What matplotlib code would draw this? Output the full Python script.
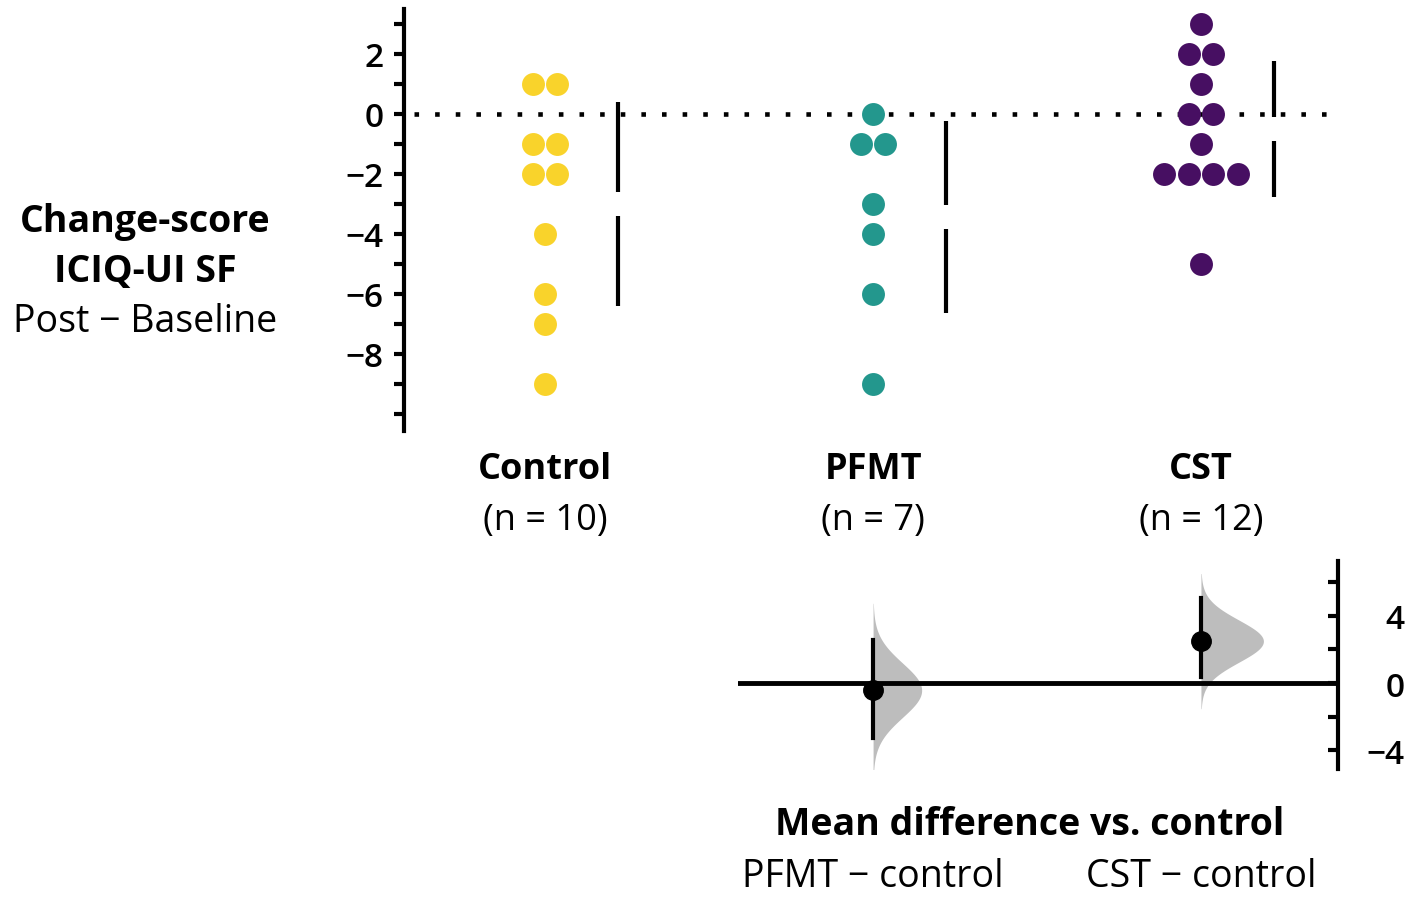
import matplotlib.pyplot as plt
import matplotlib.transforms as mtransforms
import numpy as np

plt.rcParams['font.family'] = ['Open Sans', 'DejaVu Sans']

# data
groups = ['Control', 'PFMT', 'CST']
control = [1, 1, -1, -1, -2, -2, -4, -6, -7, -9]
pfmt = [0, -1, -1, -3, -4, -6, -9]
cst = [3, 2, 2, 1, 0, 0, -1, -2, -2, -2, -2, -5]
colors = ['#F9D32B', '#23978D', '#470F62']

# bootstrap CIs for the mean differences
diff_labels = ['PFMT \u2212 control', 'CST \u2212 control']
ci_low = [-3.3, 0.35]
ci_high = [2.55, 5.05]

samples = [control, pfmt, cst]

fig = plt.figure(figsize=(14.16, 9.03), dpi=100)
W, H = 1416, 903

def px_axes(x0, y0, x1, y1):
    return fig.add_axes([x0 / W, 1 - y1 / H, (x1 - x0) / W, (y1 - y0) / H])

# ---- top: swarm plot ----
ax = px_axes(404, 10, 1330, 432)
ax.set_xlim(-0.43, 2.393)
ax.set_ylim(-10.57, 3.5)

dot_dx = 0.075
for i, vals in enumerate(samples):
    vals = np.array(vals)
    xs = []
    ys = []
    for v in np.unique(vals):
        k = np.sum(vals == v)
        for j in range(k):
            xs.append(i + (j - (k - 1) / 2) * dot_dx)
            ys.append(v)
    ax.plot(xs, ys, 'o', color=colors[i], markersize=16.5, markeredgewidth=0, zorder=3)

    # mean +/- SD with a gap at the mean
    m = vals.mean()
    sd = vals.std(ddof=1)
    gap = 0.4
    ex = i + 0.222
    ax.plot([ex, ex], [m + gap, m + sd], color='black', lw=3, solid_capstyle='butt')
    ax.plot([ex, ex], [m - gap, m - sd], color='black', lw=3, solid_capstyle='butt')

ax.plot([-0.4, 2.39], [0, 0], color='black', lw=3.3, linestyle=(0, (1, 3.5)), zorder=2)

for s in ['top', 'right', 'bottom']:
    ax.spines[s].set_visible(False)
ax.spines['left'].set_linewidth(3)
ax.set_xticks([])
yt = np.arange(-10, 4)
ax.set_yticks(yt)
ax.set_yticklabels([f'{v}'.replace('-', '\u2212') if (v % 2 == 0 and v > -10) else '' for v in yt])
ax.tick_params(axis='y', length=7, width=3, labelsize=24, pad=8)
for t in ax.get_yticklabels():
    t.set_fontweight('semibold')

# group labels
trans = mtransforms.blended_transform_factory(ax.transData, fig.transFigure)
for i, (g, vals) in enumerate(zip(groups, samples)):
    ax.text(i, 1 - 470 / H, g, transform=trans, ha='center', va='center',
            fontsize=26, fontweight='bold')
    ax.text(i, 1 - 521 / H, f'(n = {len(vals)})', transform=trans, ha='center',
            va='center', fontsize=26)

fig.text(145 / W, 1 - 222 / H, 'Change-score', ha='center', va='center',
         fontsize=27, fontweight='bold')
fig.text(145 / W, 1 - 272 / H, 'ICIQ-UI SF', ha='center', va='center',
         fontsize=27, fontweight='bold')
fig.text(145 / W, 1 - 322 / H, 'Post \u2212 Baseline', ha='center', va='center',
         fontsize=27)

# ---- bottom: mean differences ----
bx = px_axes(738, 562, 1338, 770)
bx.set_xlim(0.588, 2.418)
bx.set_ylim(-5.13, 7.28)

ctrl = np.array(control)
for k, vals in enumerate([pfmt, cst]):
    vals = np.array(vals)
    xpos = k + 1
    d = vals.mean() - ctrl.mean()
    se = np.sqrt(vals.var(ddof=1) / len(vals) + ctrl.var(ddof=1) / len(ctrl))
    yy = np.linspace(d - 3.2 * se, d + 3.2 * se, 200)
    dens = np.exp(-0.5 * ((yy - d) / se) ** 2) / se
    bx.fill_betweenx(yy, xpos, xpos + 0.24 * dens, color='#BDBDBD', lw=0, zorder=1)
    bx.plot([xpos, xpos], [ci_low[k], ci_high[k]], color='black', lw=3, zorder=3)
    bx.plot(xpos, d, 'o', color='black', markersize=14, zorder=4)

bx.axhline(0, color='black', lw=3.5, zorder=2)
for s in ['top', 'left', 'bottom']:
    bx.spines[s].set_visible(False)
bx.spines['right'].set_linewidth(3)
bx.yaxis.tick_right()
bx.set_xticks([])
bt = np.arange(-4, 8, 2)
bx.set_yticks(bt)
bx.set_yticklabels([f'{v}'.replace('-', '\u2212') if v % 4 == 0 else '' for v in bt])
bx.tick_params(axis='y', direction='in', length=7, width=3, labelsize=24, pad=48)
for t in bx.get_yticklabels():
    t.set_fontweight('semibold')
    t.set_horizontalalignment('right')

trans2 = mtransforms.blended_transform_factory(bx.transData, fig.transFigure)
fig.text(1030 / W, 1 - 825 / H, 'Mean difference vs. control', ha='center',
         va='center', fontsize=27, fontweight='bold')
for k, lab in enumerate(diff_labels):
    bx.text(k + 1, 1 - 877 / H, lab, transform=trans2, ha='center', va='center',
            fontsize=27)

fig.savefig('out.png', dpi=100)
